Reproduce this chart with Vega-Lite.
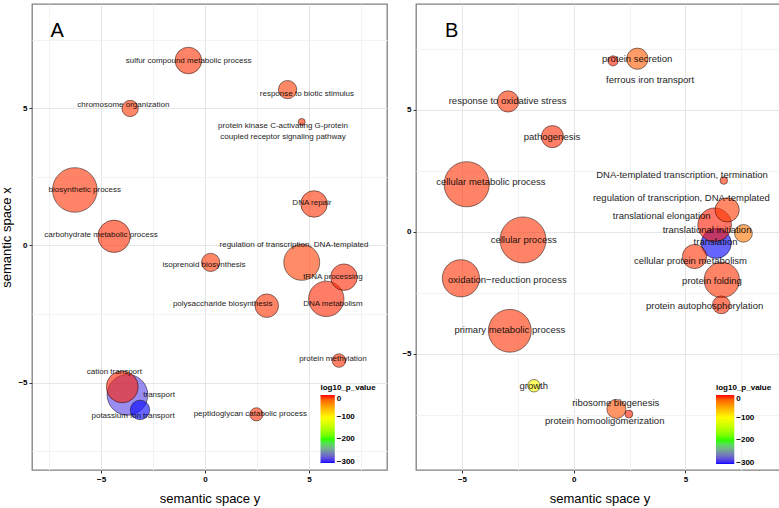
{
  "$schema": "https://vega.github.io/schema/vega-lite/v6.json",
  "padding": {"left": 0, "top": 3, "right": 0, "bottom": 0},
  "background": "white",
  "config": {
    "font": "Liberation Sans",
    "view": {"stroke": "#808080", "strokeWidth": 1.3},
    "axis": {
      "labelFont": "Liberation Sans", "labelFontSize": 8, "labelFontWeight": "bold", "labelColor": "black",
      "tickColor": "#333333", "tickSize": 3, "domain": false, "labelPadding": 2,
      "titleFont": "Liberation Sans", "titleFontSize": 13, "titleFontWeight": "normal", "titleColor": "black"
    },
    "axisX": {"titlePadding": 9},
    "axisY": {"titlePadding": 4},
    "title": {"font": "Liberation Sans", "fontSize": 20, "fontWeight": "normal", "color": "black", "anchor": "start", "frame": "group", "baseline": "bottom"}
  },
  "datasets": {
    "terms": [
      {"panel": "A", "term": "biosynthetic process", "plot_X": -6.26, "plot_Y": 2.02, "plot_size": 5.04, "log10_p_value": -6, "label_X": -5.78, "label_Y": 2.02},
      {"panel": "A", "term": "carbohydrate metabolic process", "plot_X": -4.375, "plot_Y": 0.33, "plot_size": 3.10, "log10_p_value": -5, "label_X": -5.0, "label_Y": 0.38},
      {"panel": "A", "term": "regulation of transcription, DNA-templated", "plot_X": 4.65, "plot_Y": -0.62, "plot_size": 3.60, "log10_p_value": -10, "label_X": 4.28, "label_Y": 0.03},
      {"panel": "A", "term": "DNA metabolism", "plot_X": 5.83, "plot_Y": -1.95, "plot_size": 3.52, "log10_p_value": -4, "label_X": 6.15, "label_Y": -2.14},
      {"panel": "A", "term": "transport", "plot_X": -3.73, "plot_Y": -5.45, "plot_size": 4.35, "log10_p_value": -290, "label_X": -2.21, "label_Y": -5.45},
      {"panel": "A", "term": "cation transport", "plot_X": -3.98, "plot_Y": -5.16, "plot_size": 3.03, "log10_p_value": -3, "label_X": -4.36, "label_Y": -4.62},
      {"panel": "A", "term": "potassium ion transport", "plot_X": -3.125, "plot_Y": -6.0, "plot_size": 1.72, "log10_p_value": -306, "label_X": -3.46, "label_Y": -6.23},
      {"panel": "A", "term": "sulfur compound metabolic process", "plot_X": -0.80, "plot_Y": 6.74, "plot_size": 2.39, "log10_p_value": -6, "label_X": -0.79, "label_Y": 6.74},
      {"panel": "A", "term": "DNA repair", "plot_X": 5.24, "plot_Y": 1.51, "plot_size": 2.39, "log10_p_value": -6, "label_X": 5.14, "label_Y": 1.53},
      {"panel": "A", "term": "tRNA processing", "plot_X": 6.68, "plot_Y": -1.16, "plot_size": 2.39, "log10_p_value": -4, "label_X": 6.15, "label_Y": -1.17},
      {"panel": "A", "term": "polysaccharide biosynthesis", "plot_X": 2.97, "plot_Y": -2.2, "plot_size": 2.08, "log10_p_value": -6, "label_X": 0.85, "label_Y": -2.14},
      {"panel": "A", "term": "response to biotic stimulus", "plot_X": 3.97, "plot_Y": 5.68, "plot_size": 1.63, "log10_p_value": -8, "label_X": 4.90, "label_Y": 5.52},
      {"panel": "A", "term": "isoprenoid biosynthesis", "plot_X": 0.27, "plot_Y": -0.62, "plot_size": 1.63, "log10_p_value": -7, "label_X": -0.05, "label_Y": -0.70},
      {"panel": "A", "term": "chromosome organization", "plot_X": -3.6, "plot_Y": 4.99, "plot_size": 1.49, "log10_p_value": -7, "label_X": -3.93, "label_Y": 5.12},
      {"panel": "A", "term": "protein methylation", "plot_X": 6.44, "plot_Y": -4.2, "plot_size": 1.32, "log10_p_value": -5, "label_X": 6.15, "label_Y": -4.14},
      {"panel": "A", "term": "peptidoglycan catabolic process", "plot_X": 2.47, "plot_Y": -6.16, "plot_size": 1.30, "log10_p_value": -6, "label_X": 2.18, "label_Y": -6.16},
      {"panel": "A", "term": "protein kinase C-activating G-protein\ncoupled receptor signaling pathway", "plot_X": 4.65, "plot_Y": 4.5, "plot_size": 1.04, "log10_p_value": -5, "label_X": 3.75, "label_Y": 4.34},

      {"panel": "B", "term": "cellular process", "plot_X": -2.27, "plot_Y": -0.33, "plot_size": 5.30, "log10_p_value": -6, "label_X": -2.24, "label_Y": -0.32},
      {"panel": "B", "term": "cellular metabolic process", "plot_X": -4.79, "plot_Y": 1.95, "plot_size": 5.14, "log10_p_value": -6, "label_X": -3.71, "label_Y": 2.06},
      {"panel": "B", "term": "primary metabolic process", "plot_X": -2.86, "plot_Y": -4.05, "plot_size": 4.72, "log10_p_value": -6, "label_X": -2.86, "label_Y": -4.02},
      {"panel": "B", "term": "oxidation−reduction process", "plot_X": -5.05, "plot_Y": -1.9, "plot_size": 3.79, "log10_p_value": -6, "label_X": -2.97, "label_Y": -1.97},
      {"panel": "B", "term": "translation", "plot_X": 6.38, "plot_Y": -0.47, "plot_size": 2.81, "log10_p_value": -306, "label_X": 6.35, "label_Y": -0.43},
      {"panel": "B", "term": "translational elongation", "plot_X": 6.31, "plot_Y": 0.29, "plot_size": 3.27, "log10_p_value": -2, "label_X": 3.94, "label_Y": 0.63},
      {"panel": "B", "term": "protein folding", "plot_X": 6.63, "plot_Y": -1.97, "plot_size": 3.52, "log10_p_value": -6, "label_X": 6.19, "label_Y": -2.0},
      {"panel": "B", "term": "regulation of transcription, DNA-templated", "plot_X": 6.87, "plot_Y": 0.90, "plot_size": 2.15, "log10_p_value": -8, "label_X": 4.82, "label_Y": 1.38},
      {"panel": "B", "term": "cellular protein metabolism", "plot_X": 5.41, "plot_Y": -1.01, "plot_size": 2.15, "log10_p_value": -6, "label_X": 5.23, "label_Y": -1.19},
      {"panel": "B", "term": "protein secretion", "plot_X": 2.85, "plot_Y": 7.09, "plot_size": 1.87, "log10_p_value": -18, "label_X": 2.84, "label_Y": 7.09},
      {"panel": "B", "term": "response to oxidative stress", "plot_X": -2.94, "plot_Y": 5.34, "plot_size": 1.87, "log10_p_value": -6, "label_X": -2.96, "label_Y": 5.34},
      {"panel": "B", "term": "pathogenesis", "plot_X": -0.95, "plot_Y": 3.9, "plot_size": 1.95, "log10_p_value": -5, "label_X": -0.97, "label_Y": 3.88},
      {"panel": "B", "term": "ribosome biogenesis", "plot_X": 1.91, "plot_Y": -7.25, "plot_size": 1.69, "log10_p_value": -14, "label_X": 1.88, "label_Y": -7.02},
      {"panel": "B", "term": "translational initiation", "plot_X": 7.60, "plot_Y": -0.06, "plot_size": 1.59, "log10_p_value": -30, "label_X": 5.97, "label_Y": 0.07},
      {"panel": "B", "term": "protein autophosphorylation", "plot_X": 6.61, "plot_Y": -2.99, "plot_size": 1.59, "log10_p_value": -5, "label_X": 5.86, "label_Y": -3.05},
      {"panel": "B", "term": "growth", "plot_X": -1.78, "plot_Y": -6.3, "plot_size": 1.26, "log10_p_value": -100, "label_X": -1.79, "label_Y": -6.3},
      {"panel": "B", "term": "ferrous iron transport", "plot_X": 1.76, "plot_Y": 7.0, "plot_size": 1.15, "log10_p_value": -3, "label_X": 3.42, "label_Y": 6.23},
      {"panel": "B", "term": "protein homooligomerization", "plot_X": 2.47, "plot_Y": -7.46, "plot_size": 1.07, "log10_p_value": -3, "label_X": 1.39, "label_Y": -7.75},
      {"panel": "B", "term": "DNA-templated transcription, termination", "plot_X": 6.72, "plot_Y": 2.1, "plot_size": 1.06, "log10_p_value": -6, "label_X": 4.85, "label_Y": 2.34}
    ]
  },
  "spacing": 13,
  "resolve": {
    "scale": {"x": "independent", "y": "independent", "fill": "independent", "size": "independent"},
    "axis": {"x": "independent", "y": "independent"},
    "legend": {"fill": "independent", "size": "independent"}
  },
  "hconcat": [
    {
      "width": 355,
      "height": 466,
      "title": {"text": "A", "offset": -37, "dx": 18.5},
      "data": {"name": "terms"},
      "transform": [{"filter": "datum.panel === 'A'"}],
      "layer": [
        {
          "mark": {"type": "point", "shape": "circle", "filled": true, "fillOpacity": 0.6, "stroke": "black", "strokeOpacity": 0.6, "strokeWidth": 0.8},
          "encoding": {
            "x": {"field": "plot_X", "type": "quantitative", "title": "semantic space y",
              "scale": {"domain": [-8.32, 8.75], "nice": false, "zero": false},
              "axis": {"values": [-7.5, -5, -2.5, 0, 2.5, 5, 7.5],
                "labelExpr": "datum.value % 5 === 0 ? datum.label : ''",
                "tickOpacity": {"condition": {"test": "datum.value % 5 === 0", "value": 1}, "value": 0},
                "gridColor": {"condition": {"test": "datum.value % 5 === 0", "value": "#e6e6e6"}, "value": "#f3f3f3"}}},
            "y": {"field": "plot_Y", "type": "quantitative", "title": "semantic space x",
              "scale": {"domain": [-8.19, 8.8], "nice": false, "zero": false},
              "axis": {"values": [-7.5, -5, -2.5, 0, 2.5, 5, 7.5],
                "labelExpr": "datum.value % 5 === 0 ? datum.label : ''",
                "tickOpacity": {"condition": {"test": "datum.value % 5 === 0", "value": 1}, "value": 0},
                "gridColor": {"condition": {"test": "datum.value % 5 === 0", "value": "#e6e6e6"}, "value": "#f3f3f3"}}},
            "fill": {"field": "log10_p_value", "type": "quantitative",
              "scale": {"type": "linear", "domain": [-306, -204, -102, 0], "range": ["#0000ff", "#00ff00", "#ffff00", "#ff0000"], "interpolate": "lab"},
              "legend": {"orient": "none", "legendX": 288.5, "legendY": 380, "title": "log10_p_value", "direction": "vertical",
                "titleFontSize": 8, "titleFontWeight": "bold", "titleColor": "black", "titlePadding": 3,
                "gradientLength": 68, "gradientThickness": 14.3, "gradientStrokeWidth": 0,
                "labelFontSize": 8, "labelFontWeight": "bold", "labelColor": "black", "labelOffset": 2,
                "values": [0, -100, -200, -300]}},
            "size": {"field": "plot_size", "type": "quantitative", "scale": {"domain": [1, 6], "range": [28.3, 2463]}, "legend": null}
          }
        },
        {
          "mark": {"type": "text", "fontSize": 8, "font": "Liberation Sans", "color": "black", "opacity": 0.88, "baseline": "middle", "align": "center", "lineBreak": "\n", "lineHeight": 10.5},
          "encoding": {
            "x": {"field": "label_X", "type": "quantitative", "title": "semantic space y"},
            "y": {"field": "label_Y", "type": "quantitative", "title": "semantic space x"},
            "text": {"field": "term"}
          }
        }
      ]
    },
    {
      "width": 367,
      "height": 466,
      "title": {"text": "B", "offset": -37, "dx": 29},
      "data": {"name": "terms"},
      "transform": [{"filter": "datum.panel === 'B'"}],
      "layer": [
        {
          "mark": {"type": "point", "shape": "circle", "filled": true, "fillOpacity": 0.6, "stroke": "black", "strokeOpacity": 0.6, "strokeWidth": 0.8},
          "encoding": {
            "x": {"field": "plot_X", "type": "quantitative", "title": "semantic space y",
              "scale": {"domain": [-7.06, 9.37], "nice": false, "zero": false},
              "axis": {"values": [-5, -2.5, 0, 2.5, 5, 7.5],
                "labelExpr": "datum.value % 5 === 0 ? datum.label : ''",
                "tickOpacity": {"condition": {"test": "datum.value % 5 === 0", "value": 1}, "value": 0},
                "gridColor": {"condition": {"test": "datum.value % 5 === 0", "value": "#e6e6e6"}, "value": "#f3f3f3"}}},
            "y": {"field": "plot_Y", "type": "quantitative", "title": null,
              "scale": {"domain": [-9.75, 9.33], "nice": false, "zero": false},
              "axis": {"title": null, "values": [-7.5, -5, -2.5, 0, 2.5, 5, 7.5],
                "labelExpr": "datum.value % 5 === 0 ? datum.label : ''",
                "tickOpacity": {"condition": {"test": "datum.value % 5 === 0", "value": 1}, "value": 0},
                "gridColor": {"condition": {"test": "datum.value % 5 === 0", "value": "#e6e6e6"}, "value": "#f3f3f3"}}},
            "fill": {"field": "log10_p_value", "type": "quantitative",
              "scale": {"type": "linear", "domain": [-306, -204, -102, 0], "range": ["#0000ff", "#00ff00", "#ffff00", "#ff0000"], "interpolate": "lab"},
              "legend": {"orient": "none", "legendX": 300, "legendY": 380, "title": "log10_p_value", "direction": "vertical",
                "titleFontSize": 8, "titleFontWeight": "bold", "titleColor": "black", "titlePadding": 3,
                "gradientLength": 69, "gradientThickness": 18.3, "gradientStrokeWidth": 0,
                "labelFontSize": 8, "labelFontWeight": "bold", "labelColor": "black", "labelOffset": 2,
                "values": [0, -100, -200, -300]}},
            "size": {"field": "plot_size", "type": "quantitative", "scale": {"domain": [1, 6], "range": [28.3, 2463]}, "legend": null}
          }
        },
        {
          "mark": {"type": "text", "fontSize": 9.5, "font": "Liberation Sans", "color": "black", "opacity": 0.88, "baseline": "middle", "align": "center"},
          "encoding": {
            "x": {"field": "label_X", "type": "quantitative", "title": "semantic space y"},
            "y": {"field": "label_Y", "type": "quantitative", "title": null},
            "text": {"field": "term"}
          }
        }
      ]
    }
  ]
}
